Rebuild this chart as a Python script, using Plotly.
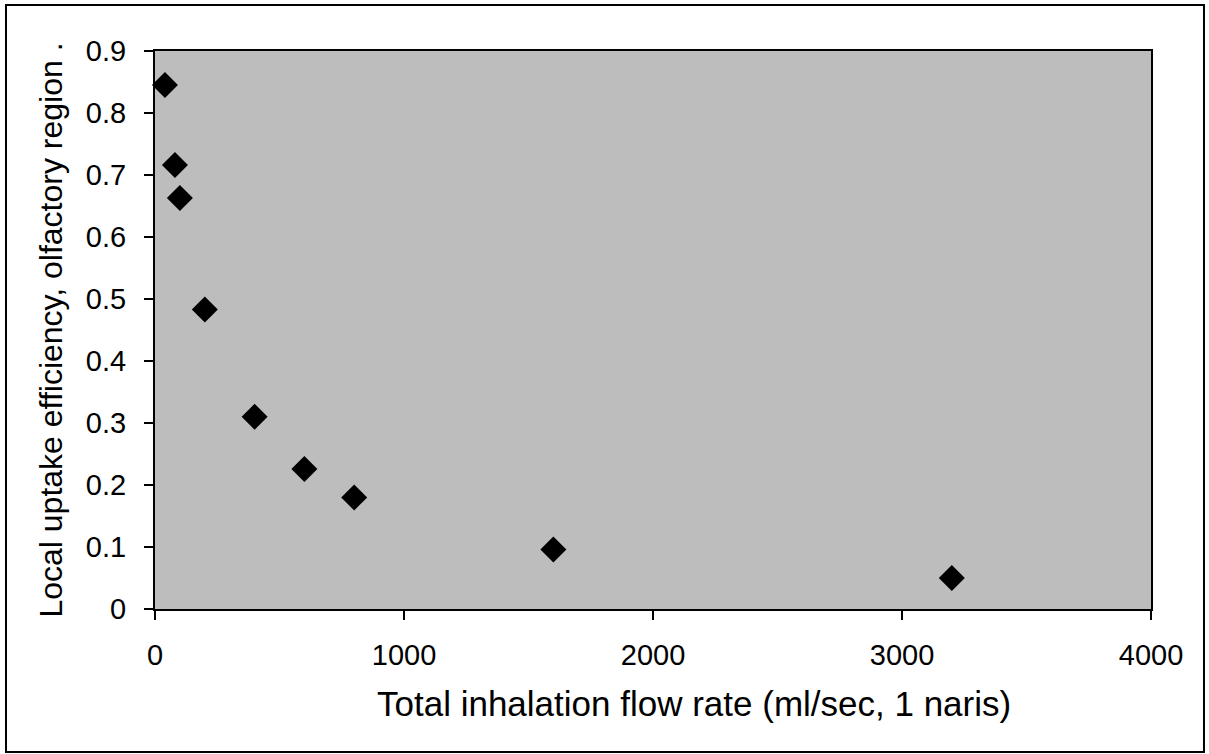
import plotly.graph_objects as go

flow_rate = [40, 80, 100, 200, 400, 600, 800, 1600, 3200]
efficiency = [0.845, 0.716, 0.663, 0.483, 0.310, 0.226, 0.180, 0.096, 0.050]

x_ticks = [0, 1000, 2000, 3000, 4000]
y_ticks = [0, 0.1, 0.2, 0.3, 0.4, 0.5, 0.6, 0.7, 0.8, 0.9]
y_labels = ["0", "0.1", "0.2", "0.3", "0.4", "0.5", "0.6", "0.7", "0.8", "0.9"]

x_title = "Total inhalation flow rate (ml/sec, 1 naris)"
y_title = "Local uptake efficiency, olfactory region ."

font_family = "Liberation Sans, Arial, sans-serif"

fig = go.Figure()
fig.add_trace(go.Scatter(
    x=flow_rate, y=efficiency, mode="markers",
    marker=dict(symbol="diamond", size=20, color="black",
                line=dict(width=0)),
    showlegend=False, cliponaxis=False,
))

fig.update_layout(
    width=1209, height=754,
    margin=dict(l=155, r=58, t=51, b=145),
    paper_bgcolor="white",
    plot_bgcolor="#bdbdbd",
    font=dict(family=font_family, size=29, color="black"),
    xaxis=dict(
        range=[0, 4000], tickvals=x_ticks, ticks="outside", ticklen=9,
        tickwidth=1.5, tickcolor="black", showline=True, linecolor="black",
        linewidth=2, mirror=True, showgrid=False, zeroline=False,
        tickfont=dict(size=29), ticklabelstandoff=10,
    ),
    yaxis=dict(
        range=[0, 0.9], tickvals=y_ticks, ticktext=y_labels,
        ticks="outside", ticklen=9, tickwidth=1.5, tickcolor="black",
        showline=True, linecolor="black", linewidth=2, mirror=True,
        showgrid=False, zeroline=False, tickfont=dict(size=29),
        ticklabelstandoff=12,
        title=dict(text=y_title, font=dict(size=32), standoff=14),
    ),
    annotations=[dict(text=x_title, xref="paper", yref="paper",
                      x=0.541, y=-0.170, xanchor="center", yanchor="middle",
                      showarrow=False, font=dict(size=35))],
    shapes=[dict(type="rect", xref="paper", yref="paper",
                 x0=-0.1496, x1=1.0532, y0=-0.2563, y1=1.0824,
                 line=dict(color="black", width=2), fillcolor="rgba(0,0,0,0)",
                 layer="below")],
)

fig.write_html("out.html", config={"displayModeBar": False},
               post_script="document.body.style.margin='0';")
